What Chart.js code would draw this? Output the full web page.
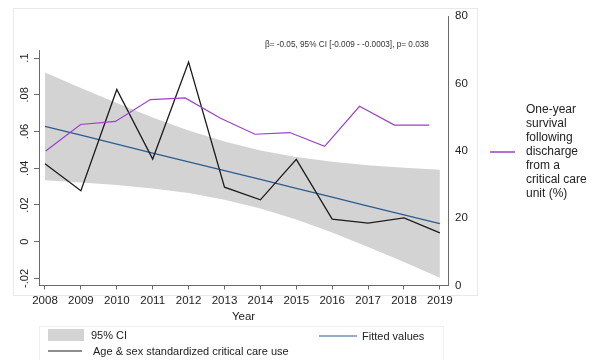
<!DOCTYPE html>
<html><head><meta charset="utf-8">
<script src="https://cdn.jsdelivr.net/npm/chart.js@4/dist/chart.umd.min.js"></script>
<style>html,body{margin:0;padding:0;background:#fff;}#wrap{width:592px;height:360px;}</style>
</head><body><div id="wrap"><canvas id="c" width="592" height="360"></canvas></div>
<script>
// ---- data ----
const years = [2008, 2009, 2010, 2011, 2012, 2013, 2014, 2015, 2016, 2017, 2018, 2019];
const critCareUse = [0.0425, 0.0278, 0.0829, 0.0450, 0.0978, 0.0297, 0.0228, 0.0448, 0.0123, 0.0101, 0.0130, 0.0048];
const fittedValues = [0.0628, 0.0580, 0.0532, 0.0483, 0.0435, 0.0387, 0.0339, 0.0291, 0.0243, 0.0194, 0.0146, 0.0098];
const ciUpper = [0.0922, 0.0837, 0.0755, 0.0676, 0.0605, 0.0545, 0.0497, 0.0461, 0.0436, 0.0417, 0.0403, 0.0392];
const ciLower = [0.0334, 0.0323, 0.0309, 0.0290, 0.0265, 0.0229, 0.0181, 0.0121, 0.0050, -0.0029, -0.0111, -0.0196];
const survivalPct = [39.9, 47.8, 48.7, 55.2, 55.7, 49.7, 44.9, 45.4, 41.3, 53.2, 47.6, 47.6];
const leftTicks = [-0.02, 0, 0.02, 0.04, 0.06, 0.08, 0.1];
const rightTicks = [0, 20, 40, 60, 80];
const xTicks = years;
const annotationText = 'β= -0.05, 95% CI [-0.009 - -0.0003], p= 0.038';
const survivalLabelLines = ['One-year', 'survival', 'following', 'discharge', 'from a', 'critical care', 'unit (%)'];
const legendCI = '95% CI';
const legendFitted = 'Fitted values';
const legendUse = 'Age & sex standardized critical care use';
const xTitle = 'Year';

// ---- styles ----
const FONT = '"Liberation Sans", Arial, sans-serif';
const C_BAND = '#d3d3d3', C_BLACK = '#1c1c1c', C_BLUE = '#2e5b8d', C_PURPLE = '#9a40c8', C_AXIS = '#6a6a6a', C_TEXT = '#222';
Chart.defaults.font.family = FONT;

const pts = arr => years.map((x, i) => ({x, y: arr[i]}));
const fmtLeft = v => { const r = Math.round(v * 1000) / 1000; return r === 0 ? '0' : String(r).replace('0.', '.'); };

const decor = {
  id: 'decor',
  beforeDraw(chart) {
    const ctx = chart.ctx;
    ctx.save();
    ctx.fillStyle = '#fff'; ctx.fillRect(0, 0, chart.width, chart.height);
    ctx.strokeStyle = '#e9e9e9'; ctx.lineWidth = 1;
    ctx.strokeRect(13.5, 8.5, 464, 287);
    ctx.strokeStyle = '#efefef';
    ctx.strokeRect(39.5, 326.5, 404, 40);
    ctx.restore();
  },
  afterDraw(chart) {
    const ctx = chart.ctx, ca = chart.chartArea, ys = chart.scales.y;
    ctx.save();
    // left axis line (Stata draws it only up to just above the top tick)
    ctx.strokeStyle = C_AXIS; ctx.lineWidth = 1;
    ctx.beginPath(); ctx.moveTo(ca.left + 0.5, ys.getPixelForValue(0.1043)); ctx.lineTo(ca.left + 0.5, ca.bottom); ctx.stroke();
    // annotation
    ctx.fillStyle = '#333'; ctx.textBaseline = 'middle'; ctx.textAlign = 'left';
    ctx.font = '10px ' + FONT;
    const w10 = ctx.measureText(annotationText).width;
    ctx.font = (10 * 164 / w10).toFixed(2) + 'px ' + FONT;
    ctx.fillText(annotationText, 265, 45);
    // right legend
    ctx.strokeStyle = C_PURPLE; ctx.lineWidth = 1.5;
    ctx.beginPath(); ctx.moveTo(490, 152); ctx.lineTo(515, 152); ctx.stroke();
    ctx.fillStyle = C_TEXT; ctx.font = '12px ' + FONT;
    survivalLabelLines.forEach((t, i) => ctx.fillText(t, 526, 152 + (i - 3) * 14));
    // bottom legend
    ctx.font = '11px ' + FONT;
    ctx.fillStyle = C_BAND; ctx.fillRect(48, 329, 36, 12);
    ctx.fillStyle = C_TEXT; ctx.fillText(legendCI, 91, 335.5);
    ctx.strokeStyle = C_BLACK; ctx.lineWidth = 1.2;
    ctx.beginPath(); ctx.moveTo(48, 351); ctx.lineTo(82, 351); ctx.stroke();
    ctx.fillText(legendUse, 93, 351.5);
    ctx.strokeStyle = C_BLUE;
    ctx.beginPath(); ctx.moveTo(319, 336); ctx.lineTo(357, 336); ctx.stroke();
    ctx.fillText(legendFitted, 362, 336.5);
    ctx.restore();
  }
};

new Chart(document.getElementById('c'), {
  type: 'line',
  data: {
    // first dataset is drawn on top in Chart.js
    datasets: [
      {label: 'Survival', data: pts(survivalPct), xAxisID: 'x2', yAxisID: 'y2', borderColor: C_PURPLE, borderWidth: 1.2, pointRadius: 0, fill: false},
      {label: 'Critical care use', data: pts(critCareUse), xAxisID: 'x', yAxisID: 'y', borderColor: C_BLACK, borderWidth: 1.3, pointRadius: 0, fill: false},
      {label: 'Fitted values', data: pts(fittedValues), xAxisID: 'x', yAxisID: 'y', borderColor: C_BLUE, borderWidth: 1.3, pointRadius: 0, fill: false},
      {label: 'CI upper', data: pts(ciUpper), xAxisID: 'x', yAxisID: 'y', borderWidth: 0, borderColor: 'rgba(0,0,0,0)', backgroundColor: C_BAND, pointRadius: 0, fill: '+1', tension: 0},
      {label: 'CI lower', data: pts(ciLower), xAxisID: 'x', yAxisID: 'y', borderWidth: 0, borderColor: 'rgba(0,0,0,0)', pointRadius: 0, fill: false, tension: 0}
    ]
  },
  options: {
    responsive: false, animation: false, devicePixelRatio: 1,
    layout: {padding: {top: 16, left: 0, right: 0, bottom: 0}},
    plugins: {legend: {display: false}, tooltip: {enabled: false}, filler: {drawTime: 'beforeDatasetsDraw'}},
    elements: {line: {borderJoinStyle: 'miter'}},
    scales: {
      x: {
        type: 'linear', position: 'bottom', min: 2007.833, max: 2019.226,
        afterBuildTicks: s => { s.ticks = xTicks.map(v => ({value: v})); },
        afterFit: s => { s.height = 74.5; },
        grid: {display: true, drawOnChartArea: false, drawTicks: true, tickLength: 4, color: C_AXIS},
        border: {display: true, color: C_AXIS},
        ticks: {autoSkip: false, maxRotation: 0, padding: 4, color: C_TEXT, font: {size: 11.5}, callback: v => String(v)},
        title: {display: true, text: xTitle, color: C_TEXT, font: {size: 11.5}, padding: {top: 0, bottom: 36}}
      },
      x2: {type: 'linear', display: false, min: 2007.808, max: 2019.537},
      y: {
        position: 'left', min: -0.02384, max: 0.1229,
        afterBuildTicks: s => { s.ticks = leftTicks.map(v => ({value: v})); },
        afterFit: s => { s.width = 39; },
        grid: {display: true, drawOnChartArea: false, drawTicks: true, tickLength: 5, color: C_AXIS},
        border: {display: false},
        ticks: {minRotation: 90, maxRotation: 90, crossAlign: 'center', padding: 0, color: C_TEXT, font: {size: 11}, callback: v => fmtLeft(v)}
      },
      y2: {
        position: 'right', min: 0, max: 80,
        afterBuildTicks: s => { s.ticks = rightTicks.map(v => ({value: v})); },
        afterFit: s => { s.width = 144; },
        grid: {display: false, drawOnChartArea: false, drawTicks: false},
        border: {display: true, color: C_AXIS},
        ticks: {padding: 7, color: C_TEXT, font: {size: 11.5}, callback: v => String(v)}
      }
    }
  },
  plugins: [decor]
});
</script></body></html>
